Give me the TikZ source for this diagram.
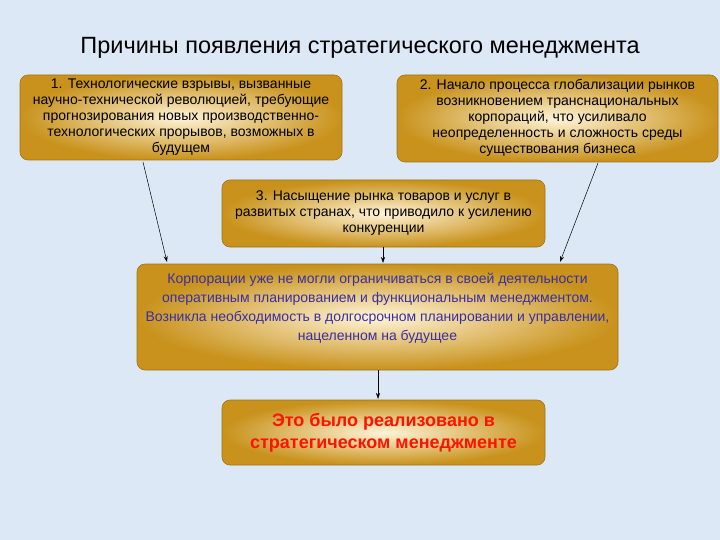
\documentclass[tikz,border=0pt]{standalone}
\usepackage{fontspec}
\setmainfont{Liberation Sans}
\usetikzlibrary{arrows.meta}
\definecolor{bg}{HTML}{DCE8F6}
\definecolor{gold}{HTML}{C8921C}
\definecolor{cream}{HTML}{FFF4D8}
\definecolor{txtblue}{HTML}{3A2FA0}
\tikzset{
  gbox/.style={rounded corners=8pt, inner color=cream, outer color=gold, draw=gold!80!black, line width=0.6pt},
  gtext/.style={align=center, font=\fontsize{14}{16}\selectfont},
  arr/.style={-{Stealth[length=6pt,width=4pt]}, line width=0.5pt}
}
\begin{document}
\begin{tikzpicture}[x=1pt,y=-1pt]
\fill[bg] (0,0) rectangle (720,540);
\node (title) at (360,48) {\fontsize{23.5}{26}\selectfont Причины появления стратегического менеджмента};
\shade[gbox] (20,75) rectangle (342,160);
\node[gtext] (b1) at (181,117) {1. Технологические взрывы, вызванные\\научно-технической революцией, требующие\\прогнозирования новых производственно-\\технологических прорывов, возможных в\\будущем};
\shade[gbox] (397,75) rectangle (718,162);
\node[gtext] (b2) at (557.5,118) {2. Начало процесса глобализации рынков\\возникновением транснациональных\\корпораций, что усиливало\\неопределенность и сложность среды\\существования бизнеса};
\shade[gbox] (222,180) rectangle (545,247);
\node[gtext] (b3) at (383.5,213) {3. Насыщение рынка товаров и услуг в\\развитых странах, что приводило к усилению\\конкуренции};
\shade[gbox] (137,264) rectangle (618,370);
\node[gtext, text=txtblue, font=\fontsize{14}{19}\selectfont] (b4) at (377.5,308) {Корпорации уже не могли ограничиваться в своей деятельности\\оперативным планированием и функциональным менеджментом.\\Возникла необходимость в долгосрочном планировании и управлении,\\нацеленном на будущее};
\shade[gbox] (222,400) rectangle (545,465);
\node[gtext, text=red!85!orange, font=\bfseries\fontsize{18}{22}\selectfont] (b5) at (383.5,432.5) {Это было реализовано в\\стратегическом менеджменте};
\coordinate (a1) at (143,162); \coordinate (e1) at (167,262);
\coordinate (a2) at (598,163); \coordinate (e2) at (560,262);
\coordinate (a3) at (383,247); \coordinate (e3) at (383,263);
\coordinate (a4) at (378,370); \coordinate (e4) at (378,399);
\draw[arr] (a1) -- (e1);
\draw[arr] (a2) -- (e2);
\draw[arr] (a3) -- (e3);
\draw[arr] (a4) -- (e4);
\end{tikzpicture}
\end{document}
